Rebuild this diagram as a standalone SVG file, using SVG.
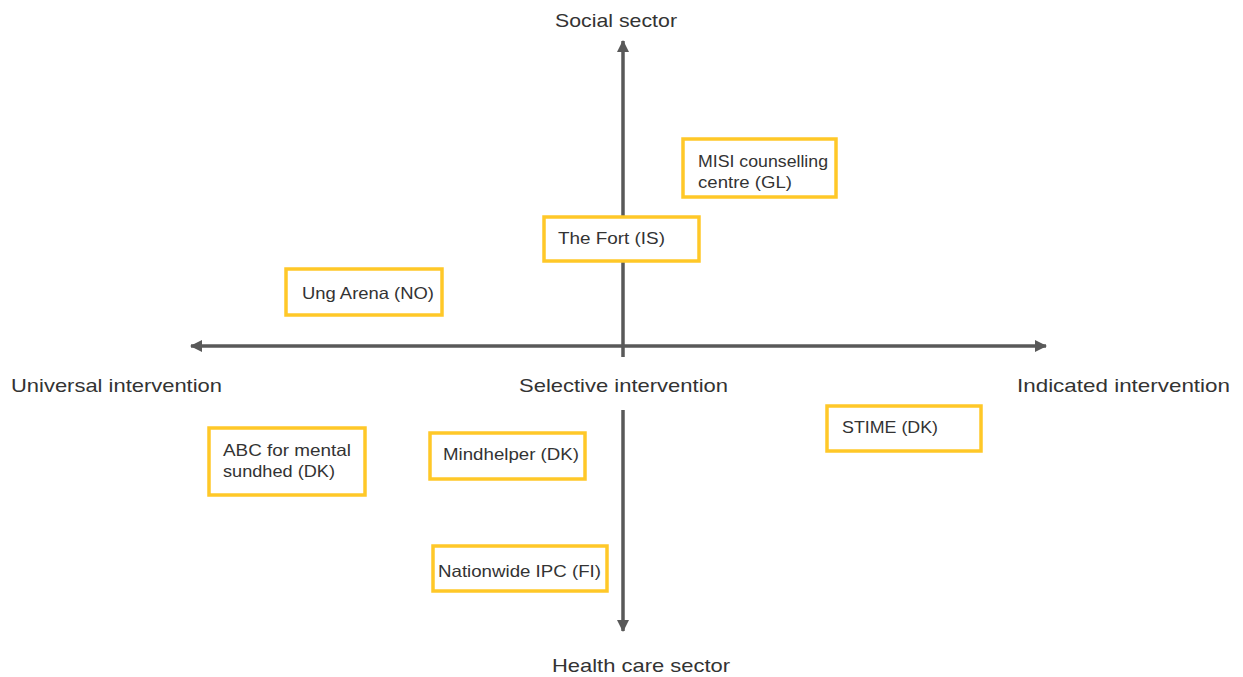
<svg xmlns="http://www.w3.org/2000/svg" width="1243" height="677" viewBox="0 0 1243 677">
  <style>
    .axis { stroke: #595959; stroke-width: 3.5; fill: none; }
    .box rect { fill: #ffffff; stroke: #FFC828; stroke-width: 3.5; }
    .box text { font-family: "Liberation Sans", Arial, sans-serif; font-size: 16.5px; fill: #333333; }
    .lbl { font-family: "Liberation Sans", Arial, sans-serif; font-size: 19px; fill: #333333; }
  </style>
  <defs>
    <marker id="arr" viewBox="0 0 12 12" refX="11" refY="6" markerWidth="12" markerHeight="12" markerUnits="userSpaceOnUse" orient="auto">
      <path d="M0,0 L12,6 L0,12 Z" fill="#595959"/>
    </marker>
  </defs>
  <rect width="1243" height="677" fill="#ffffff"/>

  <g id="connectors">
    <line class="axis" x1="623" y1="357" x2="623" y2="41" marker-end="url(#arr)"/>
    <line class="axis" x1="623" y1="410" x2="623" y2="631" marker-end="url(#arr)"/>
    <line class="axis" x1="620" y1="346" x2="191" y2="346" marker-end="url(#arr)"/>
    <line class="axis" x1="620" y1="346" x2="1046" y2="346" marker-end="url(#arr)"/>
  </g>

  <g id="labels">
    <text class="lbl" x="555" y="27" textLength="122" lengthAdjust="spacingAndGlyphs">Social sector</text>
    <text class="lbl" x="11" y="392" textLength="211" lengthAdjust="spacingAndGlyphs">Universal intervention</text>
    <text class="lbl" x="519" y="392" textLength="209" lengthAdjust="spacingAndGlyphs">Selective intervention</text>
    <text class="lbl" x="1017" y="392" textLength="213" lengthAdjust="spacingAndGlyphs">Indicated intervention</text>
    <text class="lbl" x="552" y="672" textLength="178" lengthAdjust="spacingAndGlyphs">Health care sector</text>
  </g>

  <g id="misi" class="box">
    <rect x="683" y="139" width="153" height="58"/>
    <text x="698" y="167" textLength="130" lengthAdjust="spacingAndGlyphs">MISI counselling</text>
    <text x="698" y="188" textLength="94" lengthAdjust="spacingAndGlyphs">centre (GL)</text>
  </g>

  <g id="fort" class="box">
    <rect x="544" y="217" width="155" height="44"/>
    <text x="558" y="244" textLength="107" lengthAdjust="spacingAndGlyphs">The Fort (IS)</text>
  </g>

  <g id="ung" class="box">
    <rect x="286" y="269" width="156" height="46"/>
    <text x="302" y="299" textLength="132" lengthAdjust="spacingAndGlyphs">Ung Arena (NO)</text>
  </g>

  <g id="abc" class="box">
    <rect x="209" y="428" width="156" height="67"/>
    <text x="223" y="456" textLength="128" lengthAdjust="spacingAndGlyphs">ABC for mental</text>
    <text x="223" y="477" textLength="112" lengthAdjust="spacingAndGlyphs">sundhed (DK)</text>
  </g>

  <g id="mindhelper" class="box">
    <rect x="430" y="433" width="155" height="46"/>
    <text x="443" y="460" textLength="136" lengthAdjust="spacingAndGlyphs">Mindhelper (DK)</text>
  </g>

  <g id="stime" class="box">
    <rect x="827" y="406" width="154" height="45"/>
    <text x="842" y="433" textLength="96" lengthAdjust="spacingAndGlyphs">STIME (DK)</text>
  </g>

  <g id="nationwide" class="box">
    <rect x="433" y="546" width="174" height="45"/>
    <text x="438" y="577" textLength="163" lengthAdjust="spacingAndGlyphs">Nationwide IPC (FI)</text>
  </g>
</svg>
